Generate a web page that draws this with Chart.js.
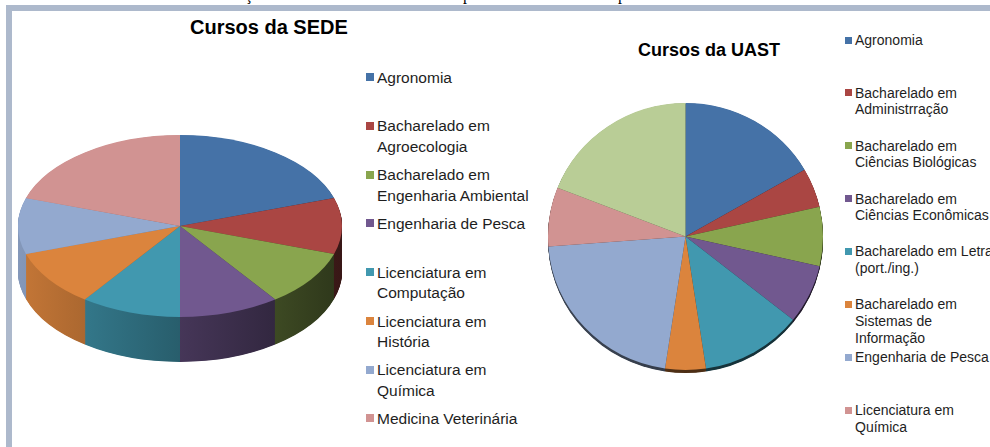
<!DOCTYPE html>
<html><head><meta charset="utf-8">
<script src="https://cdn.jsdelivr.net/npm/chart.js@4/dist/chart.umd.min.js"></script>
<style>
html,body{margin:0;padding:0;width:990px;height:447px;overflow:hidden;background:#fff;font-family:"Liberation Sans",Arial,sans-serif;}
#cut{position:absolute;left:0;top:0;width:990px;height:5px;overflow:hidden;}
#cut span{position:absolute;top:-13px;font-family:"Liberation Serif",serif;font-size:16px;line-height:16px;color:#000;}
#frameTop{position:absolute;left:6px;top:5px;width:984px;height:6px;background:#adb9cc;}
#frameLeft{position:absolute;left:6px;top:5px;width:6px;height:442px;background:#adb9cc;}
.title{position:absolute;font-weight:bold;color:#000;white-space:nowrap;}
.leg{position:absolute;white-space:nowrap;color:#1e1e1e;}
.box{position:absolute;}
canvas{position:absolute;}
</style></head><body>
<div id="cut"><span style="left:245px">ção</span><span style="left:463px">p</span><span style="left:618px">p</span></div>
<div id="frameTop"></div><div id="frameLeft"></div>
<div class="title" style="left:190px;top:17px;font-size:20px;line-height:20px;">Cursos da SEDE</div>
<div class="title" style="left:638px;top:41px;font-size:18px;line-height:18px;">Cursos da UAST</div>
<canvas id="sede" width="324" height="324" style="left:18px;top:64px;width:324px;height:324px;"></canvas>
<canvas id="uast" width="275" height="275" style="left:548px;top:99px;width:275px;height:275px;"></canvas>
<div id="legSede"></div><div id="legUast"></div>
<script>
const sedeCategories = ["Agronomia","Bacharelado em\nAgroecologia","Bacharelado em\nEngenharia Ambiental","Engenharia de Pesca","Licenciatura em\nComputação","Licenciatura em\nHistória","Licenciatura em\nQuímica","Medicina Veterinária"];
const sedeValues = [2,1,1,1,1,1,1,2];
const uastCategories = ["Agronomia","Bacharelado em\nAdministrração","Bacharelado em\nCiências Biológicas","Bacharelado em\nCiências Econômicas","Bacharelado em Letras\n(port./ing.)","Bacharelado em\nSistemas de\nInformação","Engenharia de Pesca","Licenciatura em\nQuímica","Zootecnia"];
const uastValues = [7,2,3,3,5,2,9,3,8];
const palette = ["#4572A7","#AA4643","#89A54E","#71588F","#4198AF","#DB843D","#93A9CF","#D19392","#B9CD96"];

function shade(hex,f){const n=parseInt(hex.slice(1),16);const r=(n>>16)&255,g=(n>>8)&255,b=n&255;return `rgb(${Math.round(r*f)},${Math.round(g*f)},${Math.round(b*f)})`;}

const tilt = {
  id:'tilt',
  beforeDatasetsDraw(chart,args,o){
    const meta=chart.getDatasetMeta(0);
    if(!meta.data.length) return;
    const a0=meta.data[0];
    const cx=a0.x, cy=a0.y, R=a0.outerRadius;
    const ctx=chart.ctx;
    const cols=chart.data.datasets[0].backgroundColor;
    const grads=cols.map(c=>{const g=ctx.createLinearGradient(-R,0,R,0);g.addColorStop(0,shade(c,o.light));g.addColorStop(1,shade(c,o.dark));return g;});
    for(let d=o.depth; d>0; d-=0.5){
      ctx.save();
      ctx.translate(cx,cy+d);
      ctx.scale(1,o.ratio);
      meta.data.forEach((arc,i)=>{
        ctx.beginPath();ctx.moveTo(0,0);ctx.arc(0,0,arc.outerRadius,arc.startAngle,arc.endAngle);ctx.closePath();
        ctx.fillStyle=grads[i];ctx.fill();
      });
      ctx.restore();
    }
    ctx.save();
    ctx.translate(cx,cy);ctx.scale(1,o.ratio);ctx.translate(-cx,-cy);
  },
  afterDatasetsDraw(chart){chart.ctx.restore();}
};

function makePie(id,labels,values,tiltOpts){
  return new Chart(document.getElementById(id),{
    type:'pie',
    data:{labels:labels,datasets:[{data:values,backgroundColor:palette.slice(0,values.length),borderWidth:0}]},
    options:{responsive:false,animation:false,events:[],layout:{padding:0},
      plugins:{legend:{display:false},title:{display:false},tooltip:{enabled:false},tilt:tiltOpts}},
    plugins:[tilt]
  });
}

const sedeChart = makePie('sede',sedeCategories,sedeValues,{ratio:91/162,depth:45,light:0.9,dark:0.33});
const uastChart = makePie('uast',uastCategories,uastValues,{ratio:0.971,depth:3,light:0.4,dark:0.3});

function htmlLegend(chart,host,cfg){
  const cols=chart.data.datasets[0].backgroundColor;
  chart.data.labels.forEach((lab,i)=>{
    const yc=cfg.start+i*cfg.step;
    const b=document.createElement('div');b.className='box';
    b.style.cssText=`left:${cfg.bx}px;top:${yc+cfg.boff-cfg.bs/2}px;width:${cfg.bs}px;height:${cfg.bs}px;background:${cols[i]};`;
    host.appendChild(b);
    const t=document.createElement('div');t.className='leg';
    t.style.cssText=`left:${cfg.tx}px;top:${yc-cfg.lh/2}px;font-size:${cfg.fs}px;line-height:${cfg.lh}px;`;
    lab.split('\n').forEach((ln,k)=>{if(k)t.appendChild(document.createElement('br'));t.appendChild(document.createTextNode(ln));});
    host.appendChild(t);
  });
}
htmlLegend(sedeChart,document.getElementById('legSede'),{start:78,step:48.76,bx:365.5,bs:8,boff:-1,tx:377,fs:15.5,lh:20.6});
htmlLegend(uastChart,document.getElementById('legUast'),{start:40,step:52.96,bx:845,bs:7,boff:0,tx:855,fs:14,lh:16.7});
</script>
</body></html>
